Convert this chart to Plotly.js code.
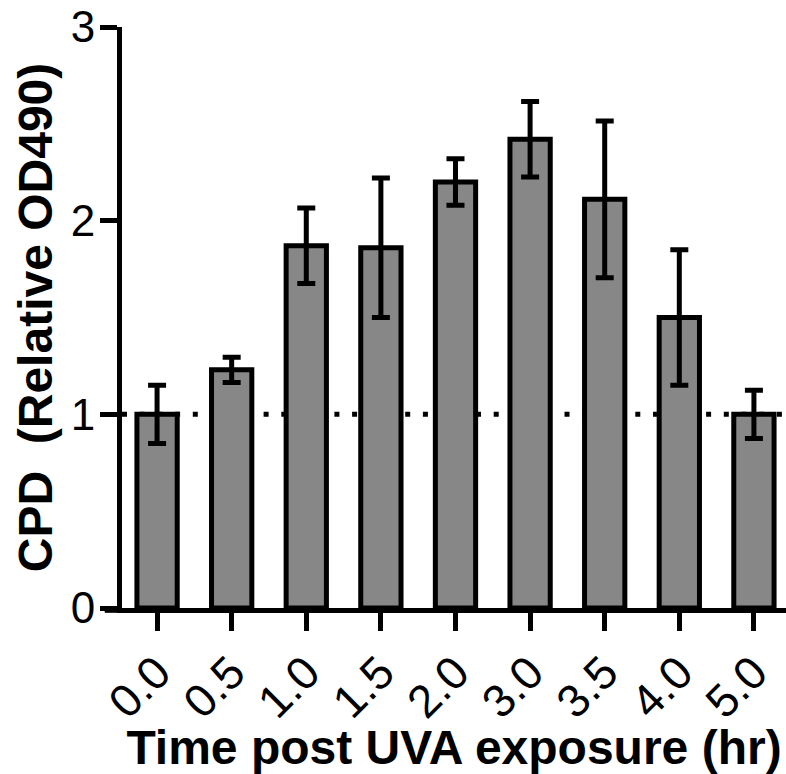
<!DOCTYPE html>
<html>
<head>
<meta charset="utf-8">
<script src="https://cdn.plot.ly/plotly-3.0.1.min.js"></script>
<style>html,body{margin:0;padding:0;background:#fff;}#chart{width:786px;height:774px;}</style>
</head>
<body>
<div id="chart"></div>
<script>
const categories = ["0.0", "0.5", "1.0", "1.5", "2.0", "3.0", "3.5", "4.0", "5.0"];
const cpdValues = [1.00, 1.23, 1.87, 1.86, 2.20, 2.42, 2.11, 1.50, 1.00];
const cpdErrors = [0.15, 0.065, 0.195, 0.36, 0.12, 0.195, 0.405, 0.35, 0.125];
const yTickVals = [0, 1, 2, 3];
const yTickText = ["0", "1", "2", "3"];
const baselineValue = 1;

const trace = {
  type: 'bar',
  x: categories,
  y: cpdValues,
  width: 0.54,
  marker: { color: '#878787', line: { color: '#000000', width: 5 } },
  error_y: { type: 'data', array: cpdErrors, visible: true, color: '#000000', thickness: 5, width: 9 },
  hoverinfo: 'x+y'
};

const fam = '"Liberation Sans", Arial, sans-serif';

const layout = {
  width: 786,
  height: 774,
  margin: { l: 122, r: 0, t: 27, b: 166 },
  paper_bgcolor: '#ffffff',
  plot_bgcolor: '#ffffff',
  showlegend: false,
  font: { family: fam, color: '#000000' },
  xaxis: {
    type: 'category',
    range: [-0.47, 8.43],
    showgrid: false,
    zeroline: false,
    showline: true,
    linecolor: '#000000',
    linewidth: 5,
    ticks: 'outside',
    ticklen: 18,
    tickwidth: 5,
    tickcolor: '#000000',
    tickangle: -45,
    ticklabelstandoff: -4,
    tickfont: { size: 46, family: fam, color: '#000000' },
    title: { text: 'Time post UVA exposure (hr)', font: { size: 48, weight: 'bold', family: fam, color: '#000000' }, standoff: 6 }
  },
  yaxis: {
    range: [0, 3],
    tickvals: yTickVals,
    ticktext: yTickText,
    showgrid: false,
    zeroline: false,
    showline: true,
    linecolor: '#000000',
    linewidth: 5,
    ticks: 'outside',
    ticklen: 17,
    tickwidth: 5,
    tickcolor: '#000000',
    ticklabelstandoff: -4,
    tickfont: { size: 44, family: fam, color: '#000000' },
    title: { text: '\u00a0\u00a0CPD\u00a0\u00a0(Relative OD490)', font: { size: 48, weight: 'bold', family: fam, color: '#000000' }, standoff: 4 }
  },
  shapes: [
    {
      type: 'line', xref: 'paper', yref: 'y', layer: 'below',
      x0: 0, x1: 1, y0: baselineValue, y1: baselineValue,
      line: { color: '#000000', width: 5, dash: '5px,12.7px' }
    },
    {
      type: 'line', xref: 'paper', yref: 'paper', layer: 'above',
      x0: -0.026, x1: 0, y0: -0.004, y1: -0.004,
      line: { color: '#000000', width: 5 }
    }
  ]
};

Plotly.newPlot('chart', [trace], layout, { displayModeBar: false, staticPlot: true });
</script>
</body>
</html>
